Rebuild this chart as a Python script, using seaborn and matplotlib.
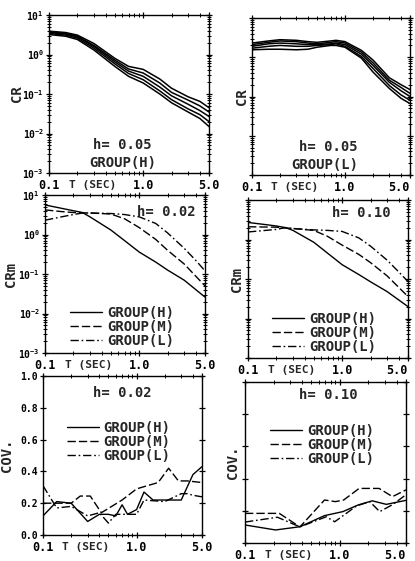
import numpy as np
import pandas as pd
import matplotlib
matplotlib.use("Agg")
import matplotlib.pyplot as plt
import seaborn as sns

# ---------------- data ----------------
# Top-left: C_R, h=0.05, GROUP(H), five records
t_top = [0.1, 0.15, 0.2, 0.3, 0.5, 0.7, 1.0, 1.5, 2.0, 3.0, 4.0, 5.0]
cr_h1 = [3.9, 3.6, 3.1, 1.9, 0.80, 0.50, 0.42, 0.24, 0.14, 0.085, 0.065, 0.045]
cr_h2 = [3.7, 3.4, 2.9, 1.7, 0.72, 0.43, 0.34, 0.19, 0.11, 0.070, 0.050, 0.035]
cr_h3 = [3.6, 3.3, 2.8, 1.6, 0.65, 0.38, 0.28, 0.15, 0.09, 0.055, 0.038, 0.027]
cr_h4 = [3.4, 3.1, 2.6, 1.45, 0.58, 0.33, 0.23, 0.12, 0.072, 0.042, 0.030, 0.020]
cr_h5 = [3.2, 2.9, 2.4, 1.3, 0.50, 0.28, 0.19, 0.10, 0.060, 0.035, 0.024, 0.015]

# Top-right: C_R, h=0.05, GROUP(L), five records
t_topr = [0.1, 0.15, 0.2, 0.3, 0.4, 0.5, 0.7, 0.8, 1.0, 1.5, 2.0, 3.0, 4.0, 5.0]
cr_l1 = [2.3, 2.6, 2.8, 2.7, 2.5, 2.4, 2.6, 2.7, 2.5, 1.5, 0.85, 0.30, 0.20, 0.15]
cr_l2 = [2.1, 2.4, 2.6, 2.5, 2.3, 2.2, 2.4, 2.5, 2.3, 1.35, 0.72, 0.26, 0.17, 0.12]
cr_l3 = [1.9, 2.2, 2.3, 2.2, 2.1, 2.1, 2.2, 2.3, 2.1, 1.2, 0.62, 0.23, 0.14, 0.10]
cr_l4 = [1.7, 1.9, 2.0, 1.9, 1.9, 2.0, 2.1, 2.2, 1.9, 1.05, 0.52, 0.19, 0.11, 0.08]
cr_l5 = [1.55, 1.6, 1.6, 1.55, 1.6, 1.8, 2.0, 2.0, 1.8, 0.95, 0.42, 0.16, 0.09, 0.066]

# Middle-left: C_Rm, h=0.02
t_m2_h = [0.1, 0.15, 0.2, 0.25, 0.3, 0.5, 0.7, 1.0, 1.5, 2.0, 3.0, 5.0]
crm2_h = [5.6, 4.6, 4.0, 3.6, 2.8, 1.3, 0.7, 0.36, 0.2, 0.126, 0.07, 0.026]
t_m2_m = [0.1, 0.15, 0.2, 0.3, 0.5, 0.7, 1.0, 1.5, 2.0, 3.0, 5.0]
crm2_m = [4.2, 3.8, 3.6, 3.5, 3.3, 2.5, 1.5, 0.75, 0.4, 0.18, 0.05]
t_m2_l = [0.1, 0.15, 0.2, 0.25, 0.3, 0.5, 0.7, 1.0, 1.5, 2.0, 3.0, 4.0, 5.0]
crm2_l = [2.3, 2.8, 3.2, 3.5, 3.5, 3.4, 3.2, 2.8, 1.9, 1.1, 0.45, 0.22, 0.12]

# Middle-right: C_Rm, h=0.10
t_m10_h = [0.1, 0.15, 0.2, 0.25, 0.3, 0.5, 0.7, 1.0, 1.5, 2.0, 3.0, 5.0]
crm10_h = [2.7, 2.4, 2.2, 2.0, 1.7, 0.85, 0.45, 0.23, 0.13, 0.085, 0.048, 0.02]
t_m10_m = [0.1, 0.2, 0.3, 0.5, 0.7, 1.0, 1.5, 2.0, 3.0, 5.0]
crm10_m = [2.1, 2.05, 1.9, 1.7, 1.2, 0.72, 0.42, 0.26, 0.12, 0.036]
t_m10_l = [0.1, 0.2, 0.25, 0.3, 0.5, 0.7, 1.0, 1.5, 2.0, 3.0, 4.0, 5.0]
crm10_l = [1.55, 1.8, 2.0, 1.9, 1.75, 1.7, 1.6, 1.1, 0.68, 0.3, 0.15, 0.086]

# Bottom-left: COV, h=0.02
t_c2_h = [0.1, 0.14, 0.2, 0.3, 0.4, 0.5, 0.6, 0.7, 0.8, 1.0, 1.2, 1.5, 2.0, 3.0, 4.0, 5.0]
cov2_h = [0.12, 0.21, 0.20, 0.085, 0.13, 0.13, 0.12, 0.19, 0.13, 0.16, 0.27, 0.22, 0.22, 0.22, 0.38, 0.43]
t_c2_m = [0.1, 0.2, 0.25, 0.32, 0.42, 0.7, 1.0, 1.3, 1.7, 2.2, 2.8, 3.5, 5.0]
cov2_m = [0.20, 0.20, 0.245, 0.245, 0.14, 0.22, 0.29, 0.31, 0.33, 0.42, 0.34, 0.34, 0.33]
t_c2_l = [0.1, 0.14, 0.2, 0.3, 0.4, 0.5, 0.6, 0.7, 1.0, 1.2, 2.0, 3.0, 3.5, 4.0, 5.0]
cov2_l = [0.31, 0.17, 0.18, 0.12, 0.14, 0.075, 0.13, 0.13, 0.13, 0.22, 0.21, 0.26, 0.26, 0.25, 0.24]

# Bottom-right: COV, h=0.10
t_c10_h = [0.1, 0.21, 0.38, 0.69, 1.08, 1.56, 2.2, 3.1, 5.0]
cov10_h = [0.112, 0.081, 0.101, 0.17, 0.195, 0.236, 0.262, 0.24, 0.265]
t_c10_m = [0.1, 0.23, 0.38, 0.69, 0.9, 1.1, 1.6, 2.6, 3.6, 5.0]
cov10_m = [0.184, 0.184, 0.10, 0.267, 0.257, 0.267, 0.339, 0.339, 0.288, 0.33]
t_c10_l = [0.1, 0.22, 0.38, 0.72, 0.885, 1.5, 2.07, 2.64, 3.65, 5.0]
cov10_l = [0.13, 0.16, 0.10, 0.163, 0.132, 0.23, 0.257, 0.195, 0.24, 0.30]

group_labels = ["GROUP(H)", "GROUP(M)", "GROUP(L)"]
x_major = [0.1, 1.0, 5.0]
x_major_labels = ["0.1", "1.0", "5.0"]
x_minor = [0.2, 0.3, 0.4, 0.5, 0.6, 0.7, 0.8, 0.9, 2.0, 3.0, 4.0]

# ---------------- style ----------------
sns.set_style("white")
plt.rcParams["font.family"] = ["DejaVu Sans Mono", "DejaVu Sans"]
plt.rcParams["font.weight"] = "bold"
plt.rcParams["mathtext.default"] = "regular"
plt.rcParams["axes.unicode_minus"] = False

LS = {"H": "-", "M": (0, (6, 2.2)), "L": (0, (6, 2, 1.2, 2))}

fig = plt.figure(figsize=(4.15, 5.61), dpi=100)

def px_axes(l, r, t, b):
    W, H = 415.0, 561.0
    return fig.add_axes([l / W, 1 - b / H, (r - l) / W, (b - t) / H])

ax1 = px_axes(49, 209, 15, 173)
ax2 = px_axes(252, 410, 18, 175)
ax3 = px_axes(45, 205, 195, 353)
ax4 = px_axes(248, 408, 200, 358)
ax5 = px_axes(43, 202, 376, 535)
ax6 = px_axes(245, 406, 382, 543)

def line(ax, t, v, key, label=None, lw=1.0):
    sns.lineplot(x=t, y=v, ax=ax, color="black", linewidth=lw,
                 linestyle=LS[key], estimator=None, sort=False, label=label)

for v in [cr_h1, cr_h2, cr_h3, cr_h4, cr_h5]:
    line(ax1, t_top, v, "H", lw=1.1)
for v in [cr_l1, cr_l2, cr_l3, cr_l4, cr_l5]:
    line(ax2, t_topr, v, "H", lw=1.1)

line(ax3, t_m2_h, crm2_h, "H", group_labels[0])
line(ax3, t_m2_m, crm2_m, "M", group_labels[1])
line(ax3, t_m2_l, crm2_l, "L", group_labels[2])

line(ax4, t_m10_h, crm10_h, "H", group_labels[0])
line(ax4, t_m10_m, crm10_m, "M", group_labels[1])
line(ax4, t_m10_l, crm10_l, "L", group_labels[2])

line(ax5, t_c2_h, cov2_h, "H", group_labels[0])
line(ax5, t_c2_m, cov2_m, "M", group_labels[1])
line(ax5, t_c2_l, cov2_l, "L", group_labels[2])

line(ax6, t_c10_h, cov10_h, "H", group_labels[0])
line(ax6, t_c10_m, cov10_m, "M", group_labels[1])
line(ax6, t_c10_l, cov10_l, "L", group_labels[2])

for ax in [ax1, ax2, ax3, ax4, ax5, ax6]:
    ax.set_xscale("log")
    ax.set_xlim(0.1, 5.0)
    ax.set_xticks(x_major)
    ax.set_xticklabels(x_major_labels)
    ax.set_xticks(x_minor, minor=True)
    ax.set_xticklabels([], minor=True)
    ax.set_xlabel("T (SEC)", fontsize=8, fontweight="bold")
    ax.xaxis.set_label_coords(0.27, -0.042)
    ax.xaxis.label.set_va("top")
    for s in ax.spines.values():
        s.set_visible(True)
        s.set_linewidth(1.0)
        s.set_color("black")
    ax.tick_params(which="both", direction="inout", top=True, right=True,
                   bottom=True, left=True, colors="black", pad=2)
    ax.tick_params(axis="x", labelsize=8.5)
    ax.tick_params(axis="y", labelsize=7, pad=1)
    ax.tick_params(which="major", length=5, width=0.9)
    ax.tick_params(which="minor", length=3, width=0.7)
    for lab in ax.get_xticklabels() + ax.get_yticklabels():
        lab.set_fontweight("bold")

# right-column: last x tick label pulled inside the figure
for ax in [ax2, ax4, ax6]:
    ax.get_xticklabels()[-1].set_horizontalalignment("right")

for ax in [ax1, ax2, ax3, ax4]:
    ax.set_yscale("log")
    ax.set_ylim(1e-3, 10)
    ax.set_yticks([1e-3, 1e-2, 1e-1, 1, 10])
for ax in [ax5, ax6]:
    ax.set_ylim(0, 1.0)
    ax.set_yticks([0.0, 0.2, 0.4, 0.6, 0.8, 1.0])
    ax.set_yticklabels(["0.0", "0.2", "0.4", "0.6", "0.8", "1.0"])

for ax in [ax2, ax4, ax6]:
    ax.tick_params(which="both", labelleft=False)

ylab_kw = dict(fontsize=10, fontweight="bold")
ylabels = [(ax1, "CR", -0.20), (ax2, "CR", -0.063), (ax3, "CRm", -0.215),
           (ax4, "CRm", -0.07), (ax5, "COV.", -0.225), (ax6, "COV.", -0.075)]
for ax, lab, xc in ylabels:
    ax.set_ylabel(lab, **ylab_kw)
    ax.yaxis.set_label_coords(xc, 0.5)
    ax.yaxis.label.set_va("center")

txt_kw = dict(fontsize=10, fontweight="bold", ha="center", va="center")
ax1.text(0.46, 0.18, "h= 0.05", transform=ax1.transAxes, **txt_kw)
ax1.text(0.46, 0.063, "GROUP(H)", transform=ax1.transAxes, **txt_kw)
ax2.text(0.48, 0.178, "h= 0.05", transform=ax2.transAxes, **txt_kw)
ax2.text(0.46, 0.064, "GROUP(L)", transform=ax2.transAxes, **txt_kw)
ax3.text(0.76, 0.89, "h= 0.02", transform=ax3.transAxes, **txt_kw)
ax4.text(0.71, 0.918, "h= 0.10", transform=ax4.transAxes, **txt_kw)
ax5.text(0.50, 0.893, "h= 0.02", transform=ax5.transAxes, **txt_kw)
ax6.text(0.52, 0.919, "h= 0.10", transform=ax6.transAxes, **txt_kw)

def legend(ax, x0, yc):
    ax.legend(loc="center left", bbox_to_anchor=(x0, yc), frameon=False,
              borderpad=0, borderaxespad=0, handlelength=2.3,
              handletextpad=0.35, labelspacing=0.0,
              prop={"family": ["DejaVu Sans Mono"], "weight": "bold", "size": 10})

legend(ax3, 0.156, 0.165)
legend(ax4, 0.15, 0.158)
legend(ax5, 0.15, 0.585)
legend(ax6, 0.155, 0.609)

fig.savefig("out.png", dpi=100, facecolor="white")
